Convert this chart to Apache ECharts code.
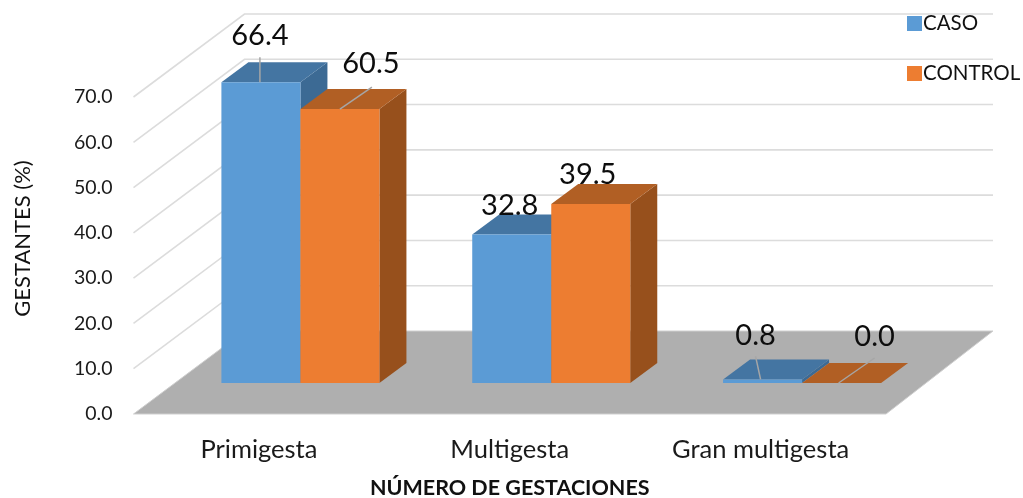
<!DOCTYPE html>
<html>
<head>
<meta charset="utf-8">
<style>html,body{margin:0;padding:0;background:#fff}#c{width:1023px;height:498px}</style>
<script src="https://cdn.jsdelivr.net/npm/echarts@6/dist/echarts.min.js"></script>
</head>
<body>
<div id="c"></div>
<script>
const categories = ['Primigesta', 'Multigesta', 'Gran multigesta'];
const casoValues = [66.4, 32.8, 0.8];
const controlValues = [60.5, 39.5, 0.0];
const yTicks = [0, 10, 20, 30, 40, 50, 60, 70];

// layout only: label centre and leader line offsets relative to the bar's front-top centre
const casoLabels = [
  {dx: -1, dy: -47, leader: [[-1, -25], [-1, 0]]},
  {dx: -2, dy: -29, leader: null},
  {dx: -7, dy: -44, leader: [[-7, -23], [-2, 0]]}
];
const controlLabels = [
  {dx: 31, dy: -45, leader: [[32, -22], [0, 0]]},
  {dx: -3, dy: -29, leader: null},
  {dx: 33, dy: -46, leader: [[33, -25], [-3, 0]]}
];

const floorShift = [42, -31];   // bars stand inside the floor
const barDepth = [27, -20];
const wallDepth = [111, -83];
const floorRightDx = 107;
const barBandRatio = 0.315;
const fontFamily = 'Lato, "Open Sans", sans-serif';

function wallRender(params, api) {
  const cs = params.coordSys;
  const y = api.coord([0, api.value(0)])[1];
  const x0 = cs.x, x1 = cs.x + wallDepth[0], x2 = cs.x + cs.width + floorRightDx;
  const y1 = y + wallDepth[1];
  return {
    type: 'polyline',
    shape: {points: [[x0, y], [x1, y1], [x2, y1]]},
    style: {stroke: '#dcdcdc', lineWidth: 1.6, fill: null},
    silent: true
  };
}

function floorRender(params, api) {
  const cs = params.coordSys;
  const yb = cs.y + cs.height, L = cs.x, R = cs.x + cs.width;
  return {
    type: 'polygon',
    shape: {points: [[L, yb], [R, yb], [R + floorRightDx, yb + wallDepth[1]], [L + wallDepth[0], yb + wallDepth[1]]]},
    style: {fill: '#afafaf', stroke: '#cfcfcf', lineWidth: 1},
    silent: true
  };
}

function makeBarRender(side, colors, labels) {
  return function (params, api) {
    const i = api.value(0), v = api.value(1);
    const w = api.size([1, 0])[0] * barBandRatio;
    const top = api.coord([i, v]);
    const base = api.coord([i, 0]);
    const xl = top[0] + floorShift[0] + side * w - 0.5;
    const xr = xl + w;
    const yt = top[1] + floorShift[1];
    const yb = base[1] + floorShift[1];
    const dx = barDepth[0], dy = barDepth[1];
    const xc = (xl + xr) / 2;
    const cfg = labels[params.dataIndex];
    const children = [
      {type: 'polygon', shape: {points: [[xr, yb], [xr + dx, yb + dy], [xr + dx, yt + dy], [xr, yt]]}, style: {fill: colors.side}},
      {type: 'polygon', shape: {points: [[xl, yt], [xr, yt], [xr + dx, yt + dy], [xl + dx, yt + dy]]}, style: {fill: colors.top}},
      {type: 'rect', shape: {x: xl, y: yt, width: w, height: yb - yt}, style: {fill: colors.front}}
    ];
    if (cfg.leader) {
      children.push({
        type: 'polyline',
        z2: 20,
        shape: {points: cfg.leader.map(p => [xc + p[0], yt + p[1]])},
        style: {stroke: '#a6a6a6', lineWidth: 1.5, fill: null}
      });
    }
    children.push({
      type: 'text',
      z2: 30,
      style: {
        x: xc + cfg.dx, y: yt + cfg.dy,
        text: v.toFixed(1),
        fill: '#0d0d0d',
        font: '29px ' + fontFamily,
        align: 'center', verticalAlign: 'middle'
      }
    });
    return {type: 'group', children};
  };
}

const caso = {front: '#5b9bd5', top: '#4475a2', side: '#3c6a94'};
const control = {front: '#ed7d31', top: '#b15f24', side: '#97501c'};

const chart = echarts.init(document.getElementById('c'), null, {renderer: 'canvas'});
chart.setOption({
  animation: false,
  backgroundColor: '#fff',
  grid: {left: 133.5, top: 97, width: 752.5, height: 317, containLabel: false, outerBoundsMode: 'none'},
  legend: {
    data: ['CASO', 'CONTROL'],
    orient: 'vertical',
    left: 902, top: 8,
    itemWidth: 15, itemHeight: 15, itemGap: 29,
    icon: 'rect',
    selectedMode: false,
    textStyle: {fontFamily, fontSize: 20.5, color: '#111', padding: [0, 0, 0, -4]}
  },
  xAxis: {
    type: 'category',
    data: categories,
    axisLine: {show: false},
    axisTick: {show: false},
    axisLabel: {fontFamily, fontSize: 25.5, color: '#1a1a1a', margin: 23},
    name: 'NÚMERO DE GESTACIONES',
    nameLocation: 'middle',
    nameGap: 63,
    nameTextStyle: {fontFamily, fontSize: 21.5, fontWeight: 'bold', color: '#111'}
  },
  yAxis: {
    type: 'value',
    min: 0, max: 70, interval: 10,
    axisLine: {show: false},
    axisTick: {show: false},
    splitLine: {show: false},
    axisLabel: {fontFamily, fontSize: 19.5, color: '#1a1a1a', margin: 21, formatter: v => v.toFixed(1)},
    name: 'GESTANTES (%)',
    nameLocation: 'middle',
    nameGap: 100,
    nameRotate: 90,
    nameTextStyle: {fontFamily, fontSize: 22, color: '#111', padding: [0, 0, 0, 34]}
  },
  series: [
    {type: 'custom', coordinateSystem: 'cartesian2d', z: 1, silent: true,
     data: yTicks.slice(1).map(t => [t]), encode: {y: 0}, renderItem: wallRender},
    {type: 'custom', coordinateSystem: 'cartesian2d', z: 2, silent: true,
     data: [[0]], encode: {y: 0}, renderItem: floorRender},
    {type: 'custom', name: 'CASO', coordinateSystem: 'cartesian2d', z: 3,
     itemStyle: {color: caso.front},
     data: casoValues.map((v, i) => [i, v]), encode: {x: 0, y: 1},
     renderItem: makeBarRender(-1, caso, casoLabels)},
    {type: 'custom', name: 'CONTROL', coordinateSystem: 'cartesian2d', z: 4,
     itemStyle: {color: control.front},
     data: controlValues.map((v, i) => [i, v]), encode: {x: 0, y: 1},
     renderItem: makeBarRender(0, control, controlLabels)}
  ]
});
</script>
</body>
</html>
